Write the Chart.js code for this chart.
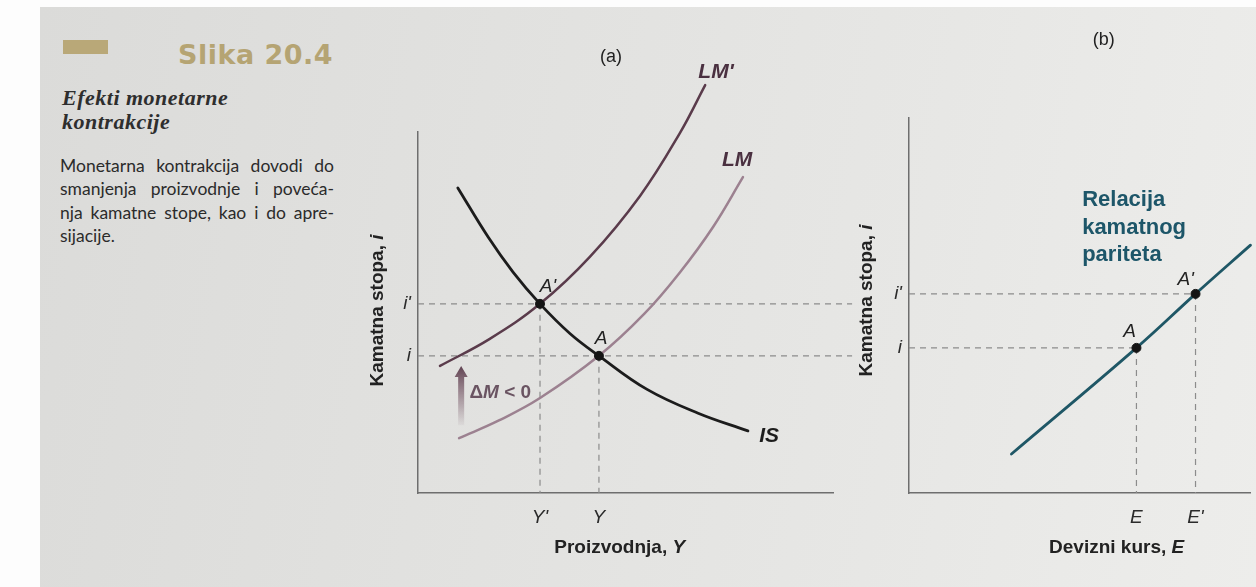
<!DOCTYPE html>
<html><head><meta charset="utf-8">
<script src="https://cdn.jsdelivr.net/npm/chart.js@4.4.1/dist/chart.umd.min.js"></script>
<style>
html,body{margin:0;padding:0;background:#fdfdfd;width:1256px;height:587px;overflow:hidden;position:relative}
#page{position:absolute;left:40px;top:7px;right:0;bottom:0;background:linear-gradient(100deg,#dbdbd9 0%,#e1e1df 35%,#e7e7e5 70%,#ededeb 100%)}
.abs{position:absolute}
#tag{left:63px;top:40px;width:45px;height:14px;background:#b9a878}
#fig{left:178px;top:39px;font:bold 27px/32px 'DejaVu Sans',Lato,sans-serif;color:#b5a473;letter-spacing:0.5px;white-space:nowrap}
#head{left:62px;top:86px;font:italic bold 22px/23.5px 'Liberation Serif','DejaVu Serif',serif;color:#2e2e2e;letter-spacing:0.5px;white-space:nowrap}
#body{left:60px;top:154px;width:274px;font:17.5px/23.3px Lato,'Open Sans',sans-serif;color:#2b2b2b}
#body div{text-align:justify;text-align-last:justify;white-space:nowrap}
#body div.last{text-align-last:left}
#boxA{left:360px;top:0;width:500px;height:587px}
#boxB{left:850px;top:0;width:406px;height:587px}
</style></head><body>
<div id="page"></div>
<div class="abs" id="tag"></div>
<div class="abs" id="fig">Slika 20.4</div>
<div class="abs" id="head">Efekti monetarne<br>kontrakcije</div>
<div class="abs" id="body"><div>Monetarna kontrakcija dovodi do</div><div>smanjenja proizvodnje i poveća-</div><div>nja kamatne stope, kao i do apre-</div><div class="last">sijacije.</div></div>
<div class="abs" id="boxA"><canvas id="ca"></canvas></div>
<div class="abs" id="boxB"><canvas id="cb"></canvas></div>
<script>
// ---------- Panel (a): IS-LM ----------
const isX      = [9.6, 16.9, 22.9, 29.4, 36.6, 43.6, 55.2, 67.5, 79.5];
const isY      = [84.5, 70.9, 61.2, 52.4, 44.2, 38.0, 28.7, 22.1, 17.2];
const lmPrimeX = [5.3, 17.3, 29.4, 41.4, 53.5, 63.1, 69.2];
const lmPrimeY = [35.2, 42.7, 52.4, 65.4, 82.3, 99.7, 113.0];
const lmX      = [9.9, 19.5, 29.4, 43.6, 54.5, 63.1, 71.1, 78.3];
const lmY      = [15.2, 20.1, 26.3, 38.0, 49.6, 61.1, 73.7, 87.5];
const eqAX     = [29.4, 43.6];          // A', A
const eqAY     = [52.4, 38.0];
const aXTicks  = [29.4, 43.6];
const aXLabels = ["Y'", "Y"];
const aYTicks  = [38.0, 52.4];
const aYLabels = ["i", "i'"];
const arrowX   = [10.4, 10.4];           // ΔM < 0 arrow (from, to)
const arrowY   = [18.8, 35.2];

// ---------- Panel (b): interest parity ----------
const uipX     = [30.0, 66.6, 83.9, 100.0];
const uipY     = [10.4, 38.7, 53.1, 66.1];
const eqBX     = [66.6, 83.9];          // A, A'
const eqBY     = [38.7, 53.1];
const bXTicks  = [66.6, 83.9];
const bXLabels = ["E", "E'"];
const bYTicks  = [38.7, 53.1];
const bYLabels = ["i", "i'"];

const FONT = "'Liberation Sans', Arial, Helvetica, sans-serif";
const AXIS = '#6e6e6e';
const DASH = '#8c8c8c';

const pts = (xs, ys) => xs.map((x, i) => ({x, y: ys[i]}));
const curve = (xs, ys, color, w) => ({data: pts(xs, ys), showLine: true, pointRadius: 0, borderColor: color, borderWidth: w, tension: 0.4, clip: false, fill: false, borderCapStyle: 'round'});
const dashed = (a, b) => ({data: [a, b], showLine: true, pointRadius: 0, borderColor: DASH, borderWidth: 1.2, borderDash: [6, 5], clip: false, fill: false});
const dots = (xs, ys) => ({data: pts(xs, ys), showLine: false, pointRadius: 4.5, pointBackgroundColor: '#141414', pointBorderColor: '#141414', clip: false});

function drawRich(ctx, segs, x, y, align) {
  let total = 0;
  segs.forEach(s => { ctx.font = s.f; total += ctx.measureText(s.t).width; });
  let cx = align === 'center' ? x - total / 2 : (align === 'right' ? x - total : x);
  ctx.textAlign = 'left'; ctx.textBaseline = 'middle';
  segs.forEach(s => { ctx.font = s.f; ctx.fillStyle = s.c || '#222'; ctx.fillText(s.t, cx, y); cx += ctx.measureText(s.t).width; });
}

function annotPlugin(o) {
  return {
    id: 'annot',
    afterDraw(chart) {
      const ctx = chart.ctx, xs = chart.scales.x, ys = chart.scales.y, ca = chart.chartArea;
      ctx.save();
      (o.texts || []).forEach(t => drawRich(ctx, t.segs, xs.getPixelForValue(t.x), ys.getPixelForValue(t.y), t.align || 'center'));
      drawRich(ctx, [{t: o.panel, f: '18px ' + FONT, c: '#222'}], xs.getPixelForValue(o.panelX), o.panelTop, 'center');
      drawRich(ctx, o.xTitle, xs.getPixelForValue(o.xTitleX), ca.bottom + 55, 'center');
      ctx.save();
      ctx.translate(ca.left - o.yTitleOff, (ca.top + ca.bottom) / 2 + o.yTitleShift);
      ctx.rotate(-Math.PI / 2);
      drawRich(ctx, o.yTitle, 0, 0, 'center');
      ctx.restore();
      if (o.arrow) {
        const ax = xs.getPixelForValue(o.arrow.x[0]);
        const y0 = ys.getPixelForValue(o.arrow.y[0]), y1 = ys.getPixelForValue(o.arrow.y[1]);
        const g = ctx.createLinearGradient(0, y0, 0, y1);
        g.addColorStop(0, 'rgba(120,90,105,0.05)');
        g.addColorStop(0.55, 'rgba(120,90,105,0.65)');
        g.addColorStop(1, 'rgba(95,65,80,1)');
        ctx.fillStyle = g;
        ctx.beginPath();
        ctx.moveTo(ax - 3, y0); ctx.lineTo(ax + 3, y0);
        ctx.lineTo(ax + 3, y1 + 11); ctx.lineTo(ax + 6.5, y1 + 11);
        ctx.lineTo(ax, y1); ctx.lineTo(ax - 6.5, y1 + 11); ctx.lineTo(ax - 3, y1 + 11);
        ctx.closePath(); ctx.fill();
      }
      ctx.restore();
    }
  };
}

function diagram(id, o) {
  return new Chart(document.getElementById(id), {
    type: 'scatter',
    data: {datasets: o.datasets},
    options: {
      responsive: true, maintainAspectRatio: false, animation: false,
      layout: {padding: o.padding},
      plugins: {legend: {display: false}, tooltip: {enabled: false}},
      scales: {
        x: {type: 'linear', min: 0, max: 100,
            grid: {display: false, drawTicks: false},
            border: {display: true, color: AXIS, width: 1.5},
            afterBuildTicks: s => { s.ticks = o.xTicks.map(v => ({value: v})); },
            afterFit: s => { s.height = 60; },
            ticks: {autoSkip: false, maxRotation: 0, padding: 13, color: '#2b2b2b',
                    font: {family: FONT, size: 19, style: 'italic'}, callback: (v, i) => o.xLabels[i]}},
        y: {type: 'linear', min: 0, max: 100,
            grid: {display: false, drawTicks: false},
            border: {display: true, color: AXIS, width: 1.5},
            afterBuildTicks: s => { s.ticks = o.yTicks.map(v => ({value: v})); },
            afterFit: s => { s.width = 40; },
            ticks: {autoSkip: false, padding: 7, color: '#2b2b2b',
                    font: {family: FONT, size: 19, style: 'italic'}, callback: (v, i) => o.yLabels[i]}}
      }
    },
    plugins: [annotPlugin(o)]
  });
}

const BI = 'italic bold 21px ' + FONT;
const IT = 'italic 19px ' + FONT;
const DM = '#6a5462';

// (a)
diagram('ca', {
  padding: {left: 18, right: 27, top: 132, bottom: 34},
  xTicks: aXTicks, xLabels: aXLabels, yTicks: aYTicks, yLabels: aYLabels,
  datasets: [
    dots(eqAX, eqAY),
    curve(isX, isY, '#1c1c1c', 2.8),
    curve(lmPrimeX, lmPrimeY, '#5a3b4b', 2.5),
    curve(lmX, lmY, '#9c8190', 2.5),
    ...eqAX.map((x, i) => dashed({x: 0, y: eqAY[i]}, {x: 104.6, y: eqAY[i]})),
    ...eqAX.map((x, i) => dashed({x: x, y: eqAY[i]}, {x: x, y: 0}))
  ],
  texts: [
    {x: 71.8, y: 116.6, segs: [{t: "LM'", f: BI, c: '#4a3040'}]},
    {x: 76.9, y: 92.2, segs: [{t: "LM", f: BI, c: '#4a3040'}]},
    {x: 84.6, y: 15.6, segs: [{t: "IS", f: BI, c: '#1c1c1c'}]},
    {x: 31.3, y: 57.1, segs: [{t: "A'", f: IT, c: '#222'}]},
    {x: 44.1, y: 42.7, segs: [{t: "A", f: IT, c: '#222'}]},
    {x: 12.4, y: 27.7, align: 'left', segs: [
      {t: "Δ", f: '600 19px ' + FONT, c: DM},
      {t: "M", f: 'italic 600 19px ' + FONT, c: DM},
      {t: " < 0", f: '600 19px ' + FONT, c: DM}]}
  ],
  arrow: {x: arrowX, y: arrowY},
  panel: '(a)', panelX: 46.5, panelTop: 57,
  xTitle: [{t: 'Proizvodnja, ', f: 'bold 19px ' + FONT}, {t: 'Y', f: 'italic bold 19px ' + FONT}], xTitleX: 48.6,
  yTitle: [{t: 'Kamatna stopa, ', f: 'bold 19px ' + FONT}, {t: 'i', f: 'italic bold 19px ' + FONT}], yTitleOff: 40, yTitleShift: -2
});

// (b)
diagram('cb', {
  padding: {left: 19, right: 0, top: 118, bottom: 34},
  xTicks: bXTicks, xLabels: bXLabels, yTicks: bYTicks, yLabels: bYLabels,
  datasets: [
    dots(eqBX, eqBY),
    curve(uipX, uipY, '#1f5766', 2.8),
    ...eqBX.map((x, i) => dashed({x: 0, y: eqBY[i]}, {x: x, y: eqBY[i]})),
    ...eqBX.map((x, i) => dashed({x: x, y: eqBY[i]}, {x: x, y: 0}))
  ],
  texts: [
    {x: 50.7, y: 78.1, align: 'left', segs: [{t: 'Relacija', f: 'bold 22px ' + FONT, c: '#1d5669'}]},
    {x: 50.7, y: 70.7, align: 'left', segs: [{t: 'kamatnog', f: 'bold 22px ' + FONT, c: '#1d5669'}]},
    {x: 50.7, y: 63.5, align: 'left', segs: [{t: 'pariteta', f: 'bold 22px ' + FONT, c: '#1d5669'}]},
    {x: 81.0, y: 56.8, segs: [{t: "A'", f: IT, c: '#222'}]},
    {x: 64.6, y: 42.9, segs: [{t: "A", f: IT, c: '#222'}]}
  ],
  panel: '(b)', panelX: 57, panelTop: 40,
  xTitle: [{t: 'Devizni kurs, ', f: 'bold 19px ' + FONT}, {t: 'E', f: 'italic bold 19px ' + FONT}], xTitleX: 60.8,
  yTitle: [{t: 'Kamatna stopa, ', f: 'bold 19px ' + FONT}, {t: 'i', f: 'italic bold 19px ' + FONT}], yTitleOff: 42, yTitleShift: -5
});
</script>
</body></html>
